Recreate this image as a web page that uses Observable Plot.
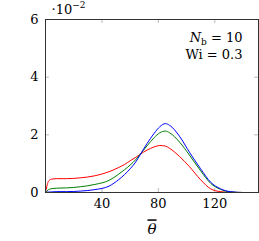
<!DOCTYPE html>
<html>
<head>
<meta charset="utf-8">
<script src="https://cdn.jsdelivr.net/npm/d3@7"></script>
<script src="https://cdn.jsdelivr.net/npm/@observablehq/plot@0.6"></script>
<style>
  html, body { margin: 0; padding: 0; background: #fff; }
  svg { display: block; }
</style>
</head>
<body>
<div id="chart"></div>
<script>
// Values in units of 10^-2 (as shown on the axis)
const theta = [0, 1, 2, 4, 8, 15, 25, 35, 45, 52, 56, 60, 64, 67, 72, 77, 81, 85, 88, 95, 102, 110, 117, 124, 131, 140, 151];
const redSeries   = [0, 0.22, 0.38, 0.46, 0.48, 0.48, 0.51, 0.58, 0.72, 0.87, 0.97, 1.10, 1.22, 1.32, 1.47, 1.58, 1.63, 1.61, 1.53, 1.25, 0.90, 0.44, 0.13, 0.03, 0.005, 0, 0];
const greenSeries = [0, 0.05, 0.09, 0.13, 0.15, 0.16, 0.20, 0.28, 0.42, 0.64, 0.79, 0.95, 1.14, 1.32, 1.62, 1.90, 2.07, 2.13, 2.07, 1.75, 1.30, 0.75, 0.32, 0.11, 0.02, 0, 0];
const blueSeries  = [0, 0.01, 0.015, 0.02, 0.03, 0.03, 0.05, 0.10, 0.22, 0.45, 0.62, 0.82, 1.06, 1.30, 1.70, 2.05, 2.28, 2.39, 2.33, 1.95, 1.40, 0.82, 0.36, 0.13, 0.03, 0, 0];
const seriesNames = ["red", "green", "blue"];
const seriesColors = ["#ff2020", "#33cc33", "#1f1fff"];
const xTicks = [40, 80, 120];
const yTicks = [0, 2, 4, 6];
const xDomain = [0, 151];
const yDomain = [0, 6];
const annotLine1 = "N_b = 10";
const annotLine2 = "Wi = 0.3";
const scaleNote = "·10^-2";
const xLabel = "θ";

const allSeries = [redSeries, greenSeries, blueSeries];
const rows = [];
allSeries.forEach((vals, k) => vals.forEach((v, i) => rows.push({s: seriesNames[k], x: theta[i], y: v})));

const W = 259, H = 241;
const mL = 45, mR = 1, mT = 19, mB = 49;
const innerW = W - mL - mR, innerH = H - mT - mB;
const tl = 4;
const innerY = yTicks.filter(d => d > yDomain[0] && d < yDomain[1]);
const FF = "'DejaVu Serif', serif";

const plot = Plot.plot({
  width: W, height: H,
  marginLeft: mL, marginRight: mR, marginTop: mT, marginBottom: mB,
  style: {fontSize: "13px", fontFamily: FF, color: "#000", background: "#fff"},
  x: {domain: xDomain, axis: null},
  y: {domain: yDomain, axis: null},
  color: {domain: seriesNames, range: seriesColors},
  marks: [
    Plot.tickX(xTicks, {x: d => d, insetTop: innerH - tl, stroke: "#aaa", strokeWidth: 0.8}),
    Plot.tickX(xTicks, {x: d => d, insetBottom: innerH - tl, stroke: "#aaa", strokeWidth: 0.8}),
    Plot.tickY(innerY, {y: d => d, insetRight: innerW - tl, stroke: "#aaa", strokeWidth: 0.8}),
    Plot.tickY(innerY, {y: d => d, insetLeft: innerW - tl, stroke: "#aaa", strokeWidth: 0.8}),
    Plot.text(xTicks, {x: d => d, text: d => String(d), frameAnchor: "bottom", dy: 11, lineAnchor: "middle", fontSize: 13, fontFamily: FF}),
    Plot.text(yTicks, {y: d => d, text: d => String(d), frameAnchor: "left", dx: -7, textAnchor: "end", lineAnchor: "middle", fontSize: 13, fontFamily: FF}),
    Plot.line(rows, {x: "x", y: "y", z: "s", stroke: "s", strokeWidth: 1, curve: "monotone-x"}),
    Plot.frame({stroke: "#333", strokeWidth: 1}),
    Plot.text([annotLine1], {text: d => d, frameAnchor: "top-right", dx: -16, dy: 18, textAnchor: "end", lineAnchor: "middle", className: "annot1", fontSize: 13, fontFamily: FF}),
    Plot.text([annotLine2], {text: d => d, frameAnchor: "top-right", dx: -16, dy: 35, textAnchor: "end", lineAnchor: "middle", fontSize: 13, fontFamily: FF}),
    Plot.text([scaleNote], {text: d => d, frameAnchor: "top-left", dx: 6, dy: -10, textAnchor: "start", lineAnchor: "middle", className: "scalenote", fontSize: 13, fontFamily: FF}),
    Plot.text([xLabel], {text: d => d, frameAnchor: "bottom", dy: 37, lineAnchor: "middle", fontStyle: "italic", fontSize: 15, fontFamily: FF, className: "xlab"})
  ]
});

const svg = d3.select(plot);
svg.selectAll(".annot1 text").each(function() {
  const t = d3.select(this);
  t.text(null);
  t.append("tspan").attr("font-style", "italic").text("N");
  t.append("tspan").attr("font-size", "9px").attr("dy", "3").text("b");
  t.append("tspan").attr("dy", "-3").text(" = 10");
});
svg.selectAll(".scalenote text").each(function() {
  const t = d3.select(this);
  t.text(null);
  t.append("tspan").text("·10");
  t.append("tspan").attr("font-size", "9px").attr("dy", "-6").text("−2");
});
svg.selectAll(".xlab text").attr("text-decoration", "overline").style("text-decoration", "overline");
document.getElementById("chart").appendChild(plot);
</script>
</body>
</html>
